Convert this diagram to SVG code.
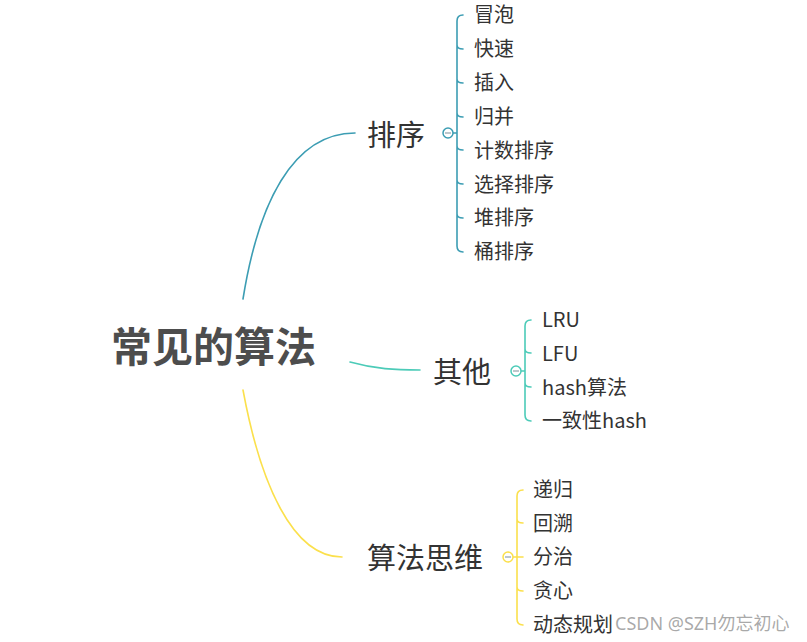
<svg xmlns="http://www.w3.org/2000/svg" width="807" height="642" viewBox="0 0 807 642">
<style>
text{font-family:"Microsoft YaHei","Noto Sans CJK SC","Noto Sans",sans-serif;fill:#333;dominant-baseline:central}
.root{font-size:41px;font-weight:bold;fill:#4d4d4d}
.main{font-size:29px;fill:#333}
.leaf{font-size:20px;fill:#333}
.c{fill:none;stroke-width:1.6;stroke-linecap:round}
.b1{stroke:#3c9db3}
.b2{stroke:#4ccbb8}
.b3{stroke:#fbe04c}
.knob{fill:#fff;stroke-width:1.5}
.minus{stroke:#9aa9b0;stroke-width:1.3}
.wm{font-family:"Noto Sans","Noto Sans CJK SC",sans-serif;font-size:18px;fill:#9a9a9a;fill-opacity:0.85}
</style>
<rect width="807" height="642" fill="#fff"/>
<g id="connectors">
<path class="c b1" d="M243,299 C258,205 292,133 355,133"/>
<path class="c b2" d="M350,362 C375,369 395,370 420,370"/>
<path class="c b3" d="M243,390 C260,482 292,557 342,557"/>
<path class="c b1" d="M463,15 Q457,15 457,21 V246 Q457,252 463,252 M453,133 H457 M457,45 Q457,49 463,49 M457,79 Q457,83 463,83 M457,113 Q457,117 463,117 M457,146 Q457,150 463,150 M457,180 Q457,184 463,184 M457,214 Q457,218 463,218"/>
<path class="c b2" d="M531,320 Q525,320 525,326 V415 Q525,421 531,421 M521,371 H525 M525,349 Q525,353 531,353 M525,383 Q525,387 531,387"/>
<path class="c b3" d="M523,490 Q517,490 517,496 V619 Q517,625 523,625 M513,557 H523 M517,519 Q517,523 523,523 M517,587 Q517,591 523,591"/>
</g>
<g id="root"><text class="root" x="111" y="344">常见的算法</text></g>
<g id="sort">
<text class="main" x="367" y="132.5">排序</text>
<circle class="knob b1" cx="448" cy="133" r="5"/><line class="minus" x1="445" y1="133" x2="451" y2="133"/>
</g>
<g id="sort-children">
<text class="leaf" x="474" y="13.5">冒泡</text>
<text class="leaf" x="474" y="47.5">快速</text>
<text class="leaf" x="474" y="81.5">插入</text>
<text class="leaf" x="474" y="115.5">归并</text>
<text class="leaf" x="474" y="149.5">计数排序</text>
<text class="leaf" x="474" y="183.5">选择排序</text>
<text class="leaf" x="474" y="216.5">堆排序</text>
<text class="leaf" x="474" y="250.5">桶排序</text>
</g>
<g id="other">
<text class="main" x="433" y="369.5">其他</text>
<circle class="knob b2" cx="516" cy="371" r="5"/><line class="minus" x1="513" y1="371" x2="519" y2="371"/>
</g>
<g id="other-children">
<text class="leaf" x="542" y="318.5">LRU</text>
<text class="leaf" x="542" y="352.5">LFU</text>
<text class="leaf" x="542" y="386.5">hash算法</text>
<text class="leaf" x="542" y="419.5">一致性hash</text>
</g>
<g id="thinking">
<text class="main" x="367" y="556">算法思维</text>
<circle class="knob b3" cx="508" cy="557" r="5"/><line class="minus" x1="505" y1="557" x2="511" y2="557"/>
</g>
<g id="thinking-children">
<text class="leaf" x="533" y="488.5">递归</text>
<text class="leaf" x="533" y="522.5">回溯</text>
<text class="leaf" x="533" y="555.5">分治</text>
<text class="leaf" x="533" y="589.5">贪心</text>
<text class="leaf" x="533" y="623.5">动态规划</text>
</g>
<text class="wm" x="615" y="623">CSDN @SZH勿忘初心</text>
</svg>
